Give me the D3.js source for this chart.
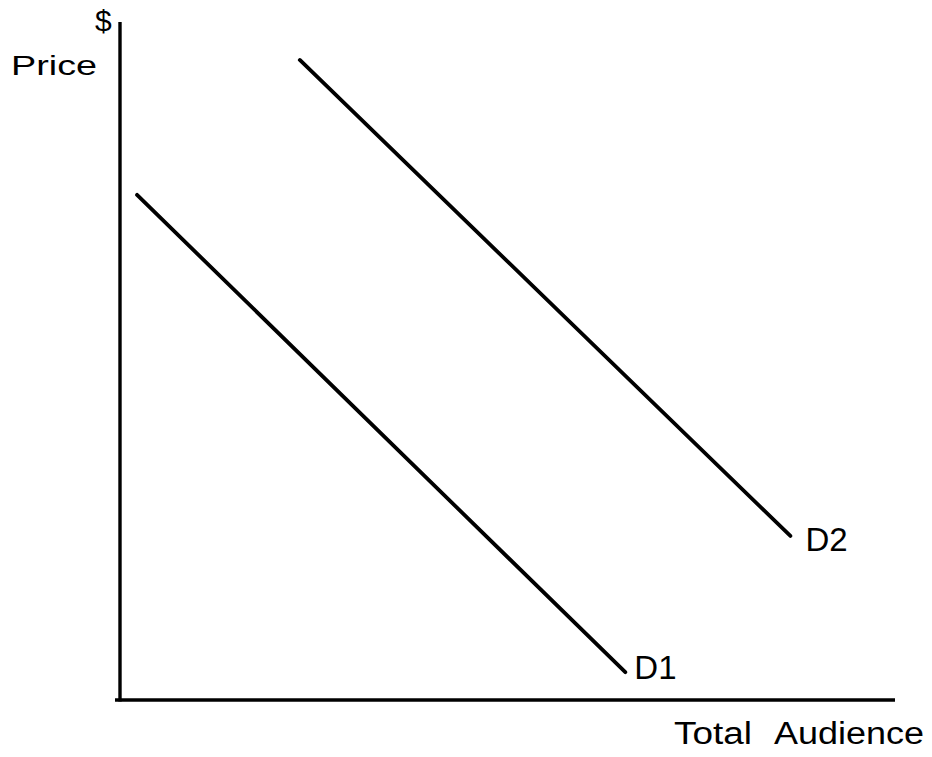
<!DOCTYPE html>
<html>
<head>
<meta charset="utf-8">
<script src="https://cdn.jsdelivr.net/npm/d3@7"></script>
<style>
  body { margin: 0; background: #fff; }
  text { font-family: "Liberation Sans", Arial, sans-serif; fill: #000; }
</style>
</head>
<body>
<div id="chart"></div>
<script>
const width = 932
const height = 757

// data: two demand curves, price vs total audience (0-100 units)
const curveNames = ["D1", "D2"]
const d1 = [{x: 2.2, y: 74.5}, {x: 65.2, y: 4.1}]
const d2 = [{x: 23.2, y: 94.4}, {x: 86.5, y: 24.2}]
const curves = [d1, d2]

let svg = d3.select('div#chart').append('svg').attr('width', width).attr('height', height)

let x = d3.scaleLinear().domain([0, 100]).range([120, 895])
let y = d3.scaleLinear().domain([0, 100]).range([700, 22])

// axes (no ticks, just the lines)
let xAxis = d3.axisBottom(x).ticks(0).tickSizeOuter(0)
let yAxis = d3.axisLeft(y).ticks(0).tickSizeOuter(0)

svg.append('g').attr('transform', `translate(0, ${y(0)})`).call(xAxis)
    .select('.domain').attr('stroke', '#000').attr('stroke-width', 3.6)
    .attr('d', `M${x(0) - 5},0H${x(100)}`)
svg.append('g').attr('transform', `translate(${x(0)}, 0)`).call(yAxis)
    .select('.domain').attr('stroke', '#000').attr('stroke-width', 3.4)
    .attr('d', `M0,${y(100)}V${y(0) + 1.5}`)

let line = d3.line().x(d => x(d.x)).y(d => y(d.y))

// label offsets from the end of each curve
let labelDx = [9, 15]
let labelDy = [7, 15]

curves.forEach((c, i) => {
    svg.append('path').datum(c)
        .attr('d', line)
        .attr('fill', 'none')
        .attr('stroke', '#000')
        .attr('stroke-width', 3.8)
        .attr('stroke-linecap', 'round')

    let end = c[c.length - 1]
    svg.append('text')
        .attr('x', x(end.x) + labelDx[i])
        .attr('y', y(end.y) + labelDy[i])
        .attr('font-size', 33)
        .text(curveNames[i])
})

// axis labels
svg.append('text').attr('x', 95).attr('y', 31).attr('font-size', 30).text('$')
svg.append('text').attr('x', 11).attr('y', 75).attr('font-size', 28)
    .attr('textLength', 86).attr('lengthAdjust', 'spacingAndGlyphs').text('Price')
svg.append('text').attr('x', 674).attr('y', 744).attr('font-size', 31)
    .attr('textLength', 78).attr('lengthAdjust', 'spacingAndGlyphs').text('Total')
svg.append('text').attr('x', 774).attr('y', 744).attr('font-size', 31)
    .attr('textLength', 150).attr('lengthAdjust', 'spacingAndGlyphs').text('Audience')
</script>
</body>
</html>
